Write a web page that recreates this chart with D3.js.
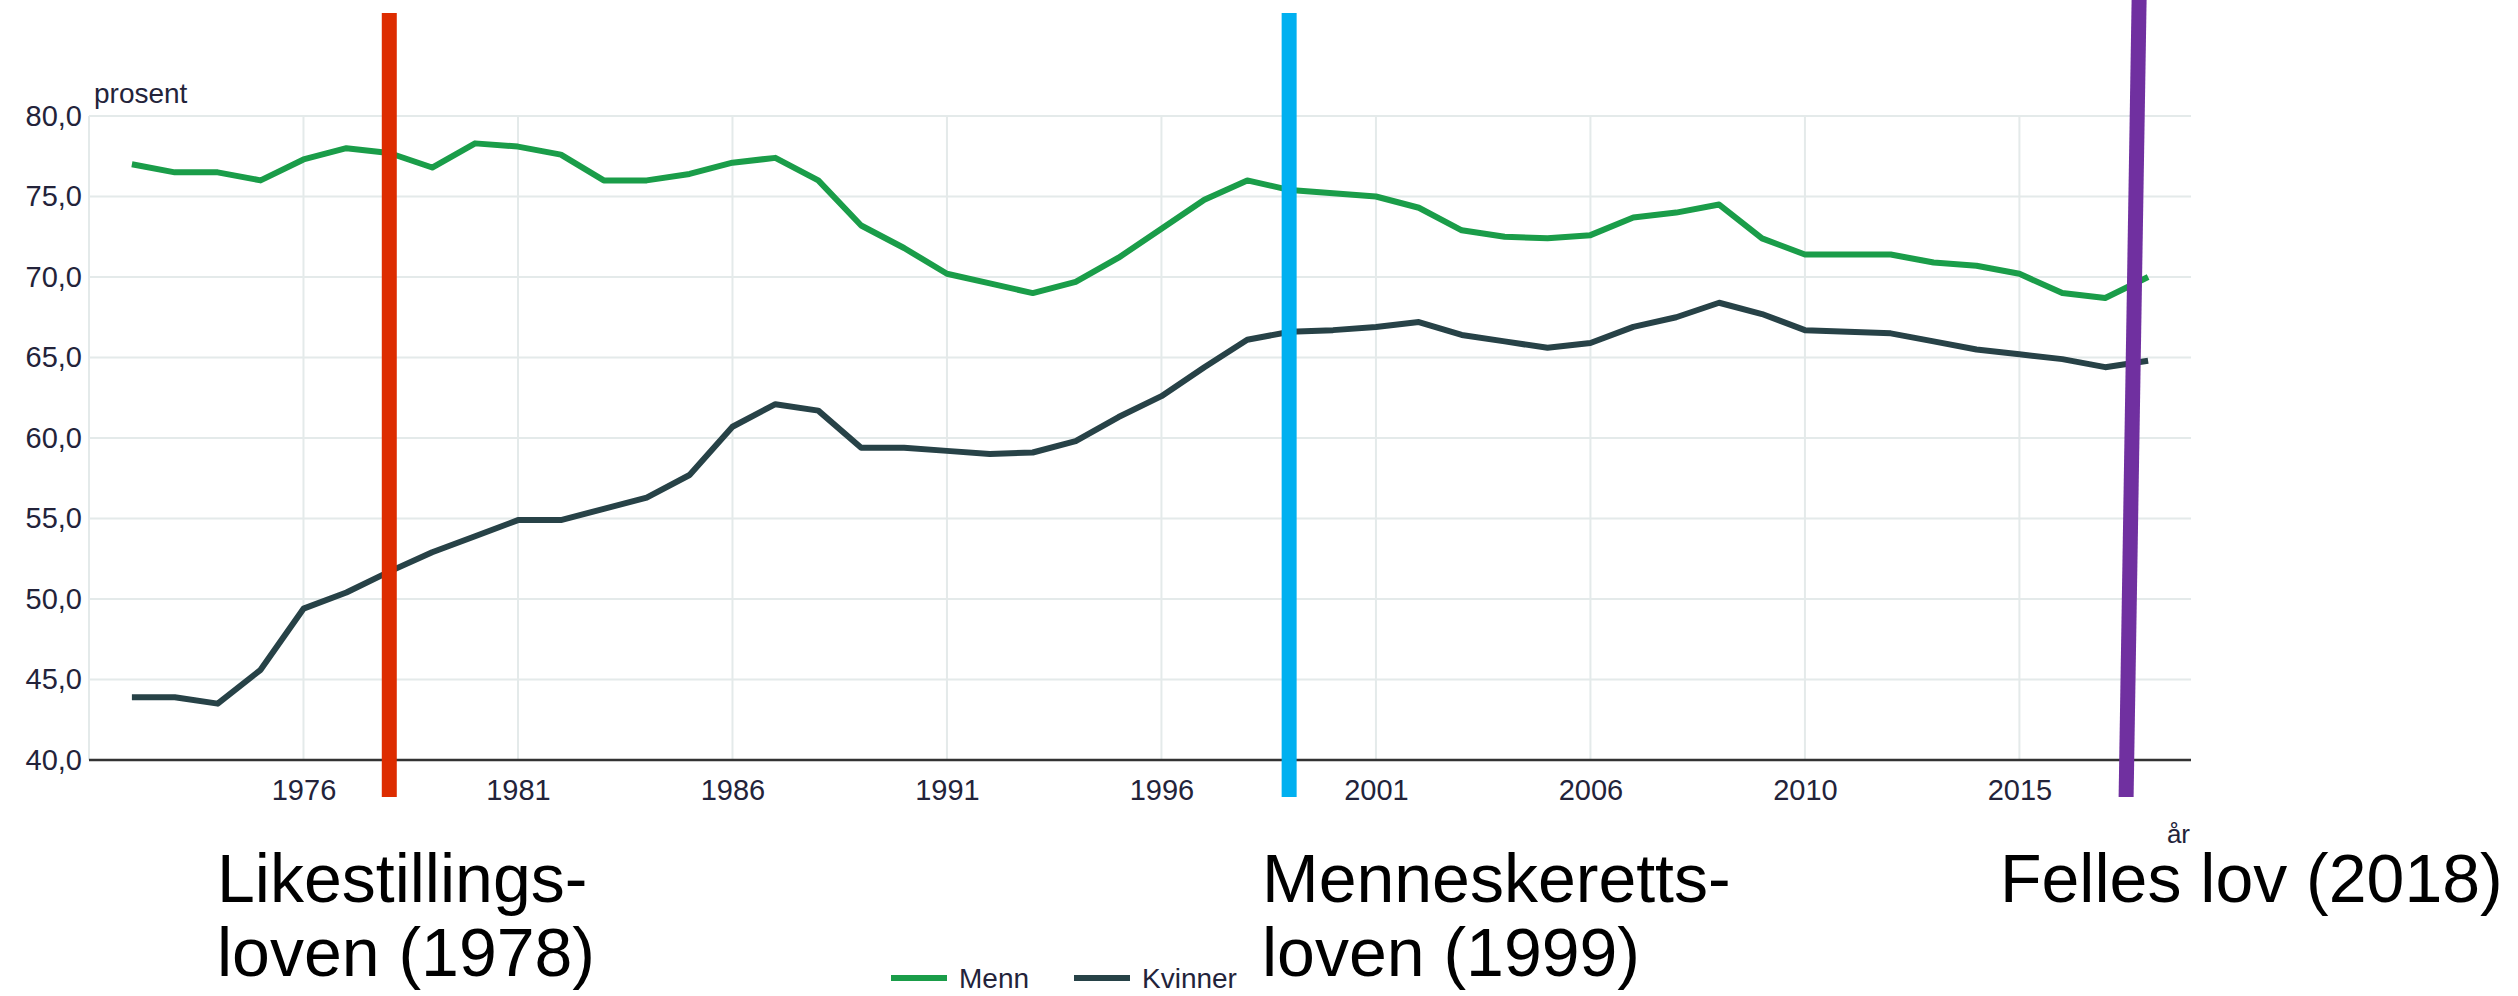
<!DOCTYPE html>
<html>
<head>
<meta charset="utf-8">
<script src="https://cdn.jsdelivr.net/npm/d3@7"></script>
<style>
  body { margin: 0; background: #fff; }
  svg { display: block; font-family: "Liberation Sans", Arial, sans-serif; }
</style>
</head>
<body>
<svg id="chart" width="2518" height="996"></svg>
<script>
// years as shown on the category axis (2006 appears twice: series break)
var years = ["1972","1973","1974","1975","1976","1977","1978","1979","1980","1981",
  "1982","1983","1984","1985","1986","1987","1988","1989","1990","1991",
  "1992","1993","1994","1995","1996","1997","1998","1999","2000","2001",
  "2002","2003","2004","2005","2006","2006","2007","2008","2009","2010",
  "2011","2012","2013","2014","2015","2016","2017","2018"];

var menn = [77.0, 76.5, 76.5, 76.0, 77.3, 78.0, 77.7, 76.8, 78.3, 78.1,
  77.6, 76.0, 76.0, 76.4, 77.1, 77.4, 76.0, 73.2, 71.8, 70.2,
  69.6, 69.0, 69.7, 71.2, 73.0, 74.8, 76.0, 75.4, 75.2, 75.0,
  74.3, 72.9, 72.5, 72.4, 72.6, 73.7, 74.0, 74.5, 72.4, 71.4,
  71.4, 71.4, 70.9, 70.7, 70.2, 69.0, 68.7, 70.0];

var kvinner = [43.9, 43.9, 43.5, 45.6, 49.4, 50.4, 51.7, 52.9, 53.9, 54.9,
  54.9, 55.6, 56.3, 57.7, 60.7, 62.1, 61.7, 59.4, 59.4, 59.2,
  59.0, 59.1, 59.8, 61.3, 62.6, 64.4, 66.1, 66.6, 66.7, 66.9,
  67.2, 66.4, 66.0, 65.6, 65.9, 66.9, 67.5, 68.4, 67.7, 66.7,
  66.6, 66.5, 66.0, 65.5, 65.2, 64.9, 64.4, 64.8];

var seriesNames = ["Menn", "Kvinner"];
var seriesColors = ["#1a9d49", "#274247"];

var yTicks = [40, 45, 50, 55, 60, 65, 70, 75, 80];

// law annotations
var lawYearIdx = [6, 27, 47];
var lawLabels = [["Likestillings-", "loven (1978)"], ["Menneskeretts-", "loven (1999)"], ["Felles lov (2018)"]];
var lawColors = ["#dd2c00", "#00b0f0", "#7030a0"];

function drawChart() {
    var svg = d3.select("#chart");
    var plotLeft = 89, plotRight = 2191, plotTop = 116, plotBottom = 760;
    var textCol = "#23233a";

    var x = d3.scalePoint()
        .domain(d3.range(years.length))
        .range([plotLeft, plotRight])
        .padding(1);
    var y = d3.scaleLinear().domain([40, 80]).range([plotBottom, plotTop]);

    var no = d3.formatLocale({decimal: ",", thousands: " ", grouping: [3], currency: ["", " kr"]});
    var fmt = no.format(".1f");

    var tickIdx = d3.range(4, years.length, 5);

    // grid
    var grid = svg.append("g").attr("stroke", "#e4eaea").attr("stroke-width", 2);
    grid.selectAll(".hg").data(yTicks.slice(1)).enter().append("line")
        .attr("x1", plotLeft).attr("x2", plotRight)
        .attr("y1", function (d) { return y(d); }).attr("y2", function (d) { return y(d); });
    grid.selectAll(".vg").data([null].concat(tickIdx)).enter().append("line")
        .attr("x1", function (d) { return d === null ? plotLeft : x(d); })
        .attr("x2", function (d) { return d === null ? plotLeft : x(d); })
        .attr("y1", plotTop).attr("y2", plotBottom);

    // y axis labels
    var yAxis = d3.axisLeft(y).tickValues(yTicks).tickFormat(fmt).tickSize(0).tickPadding(7);
    var gy = svg.append("g").attr("transform", "translate(" + plotLeft + ",0)").call(yAxis);
    gy.select(".domain").remove();
    gy.selectAll("text").attr("font-size", 29).attr("fill", textCol)
        .attr("font-family", "Liberation Sans, Arial, sans-serif");

    // x axis
    var xAxis = d3.axisBottom(x).tickValues(tickIdx)
        .tickFormat(function (i) { return years[i]; }).tickSize(0).tickPadding(19);
    var gx = svg.append("g").attr("transform", "translate(0," + plotBottom + ")").call(xAxis);
    gx.select(".domain").remove();
    gx.selectAll("text").attr("font-size", 29).attr("fill", textCol)
        .attr("font-family", "Liberation Sans, Arial, sans-serif");
    svg.append("line").attr("x1", plotLeft).attr("x2", plotRight)
        .attr("y1", plotBottom).attr("y2", plotBottom)
        .attr("stroke", "#333").attr("stroke-width", 2.5);

    svg.append("text").attr("x", 94).attr("y", 103).attr("font-size", 28)
        .attr("fill", textCol).text("prosent");
    svg.append("text").attr("x", 2190).attr("y", 843).attr("text-anchor", "end")
        .attr("font-size", 26).attr("fill", textCol).text("år");

    // lines
    var line = d3.line()
        .x(function (d, i) { return x(i); })
        .y(function (d) { return y(d); });
    [menn, kvinner].forEach(function (vals, k) {
        svg.append("path").datum(vals)
            .attr("fill", "none")
            .attr("stroke", seriesColors[k])
            .attr("stroke-width", 6)
            .attr("stroke-linejoin", "round")
            .attr("d", line);
    });

    // legend
    var legendX = [891, 1074];
    seriesNames.forEach(function (name, k) {
        svg.append("line").attr("x1", legendX[k]).attr("x2", legendX[k] + 56)
            .attr("y1", 978).attr("y2", 978)
            .attr("stroke", seriesColors[k]).attr("stroke-width", 6);
        svg.append("text").attr("x", legendX[k] + 68).attr("y", 988)
            .attr("font-size", 28).attr("fill", textCol).text(name);
    });

    // law bars (hand drawn overlay; last one slightly tilted)
    var barShift = [[0, 0], [-1, -1], [-9, -22]];
    var barTop = [13, 13, 0];
    lawYearIdx.forEach(function (idx, k) {
        svg.append("line")
            .attr("x1", x(idx) + barShift[k][0]).attr("y1", barTop[k])
            .attr("x2", x(idx) + barShift[k][1]).attr("y2", 797)
            .attr("stroke", lawColors[k]).attr("stroke-width", 15);
    });

    // law labels
    var labelX = [217, 1262, 2000];
    lawLabels.forEach(function (lines, k) {
        lines.forEach(function (t, j) {
            svg.append("text").attr("x", labelX[k]).attr("y", 902 + j * 74)
                .attr("font-size", 68).attr("fill", "#000")
                .attr("font-family", "Liberation Sans, Arial, sans-serif")
                .text(t);
        });
    });
}

drawChart();
</script>
</body>
</html>
